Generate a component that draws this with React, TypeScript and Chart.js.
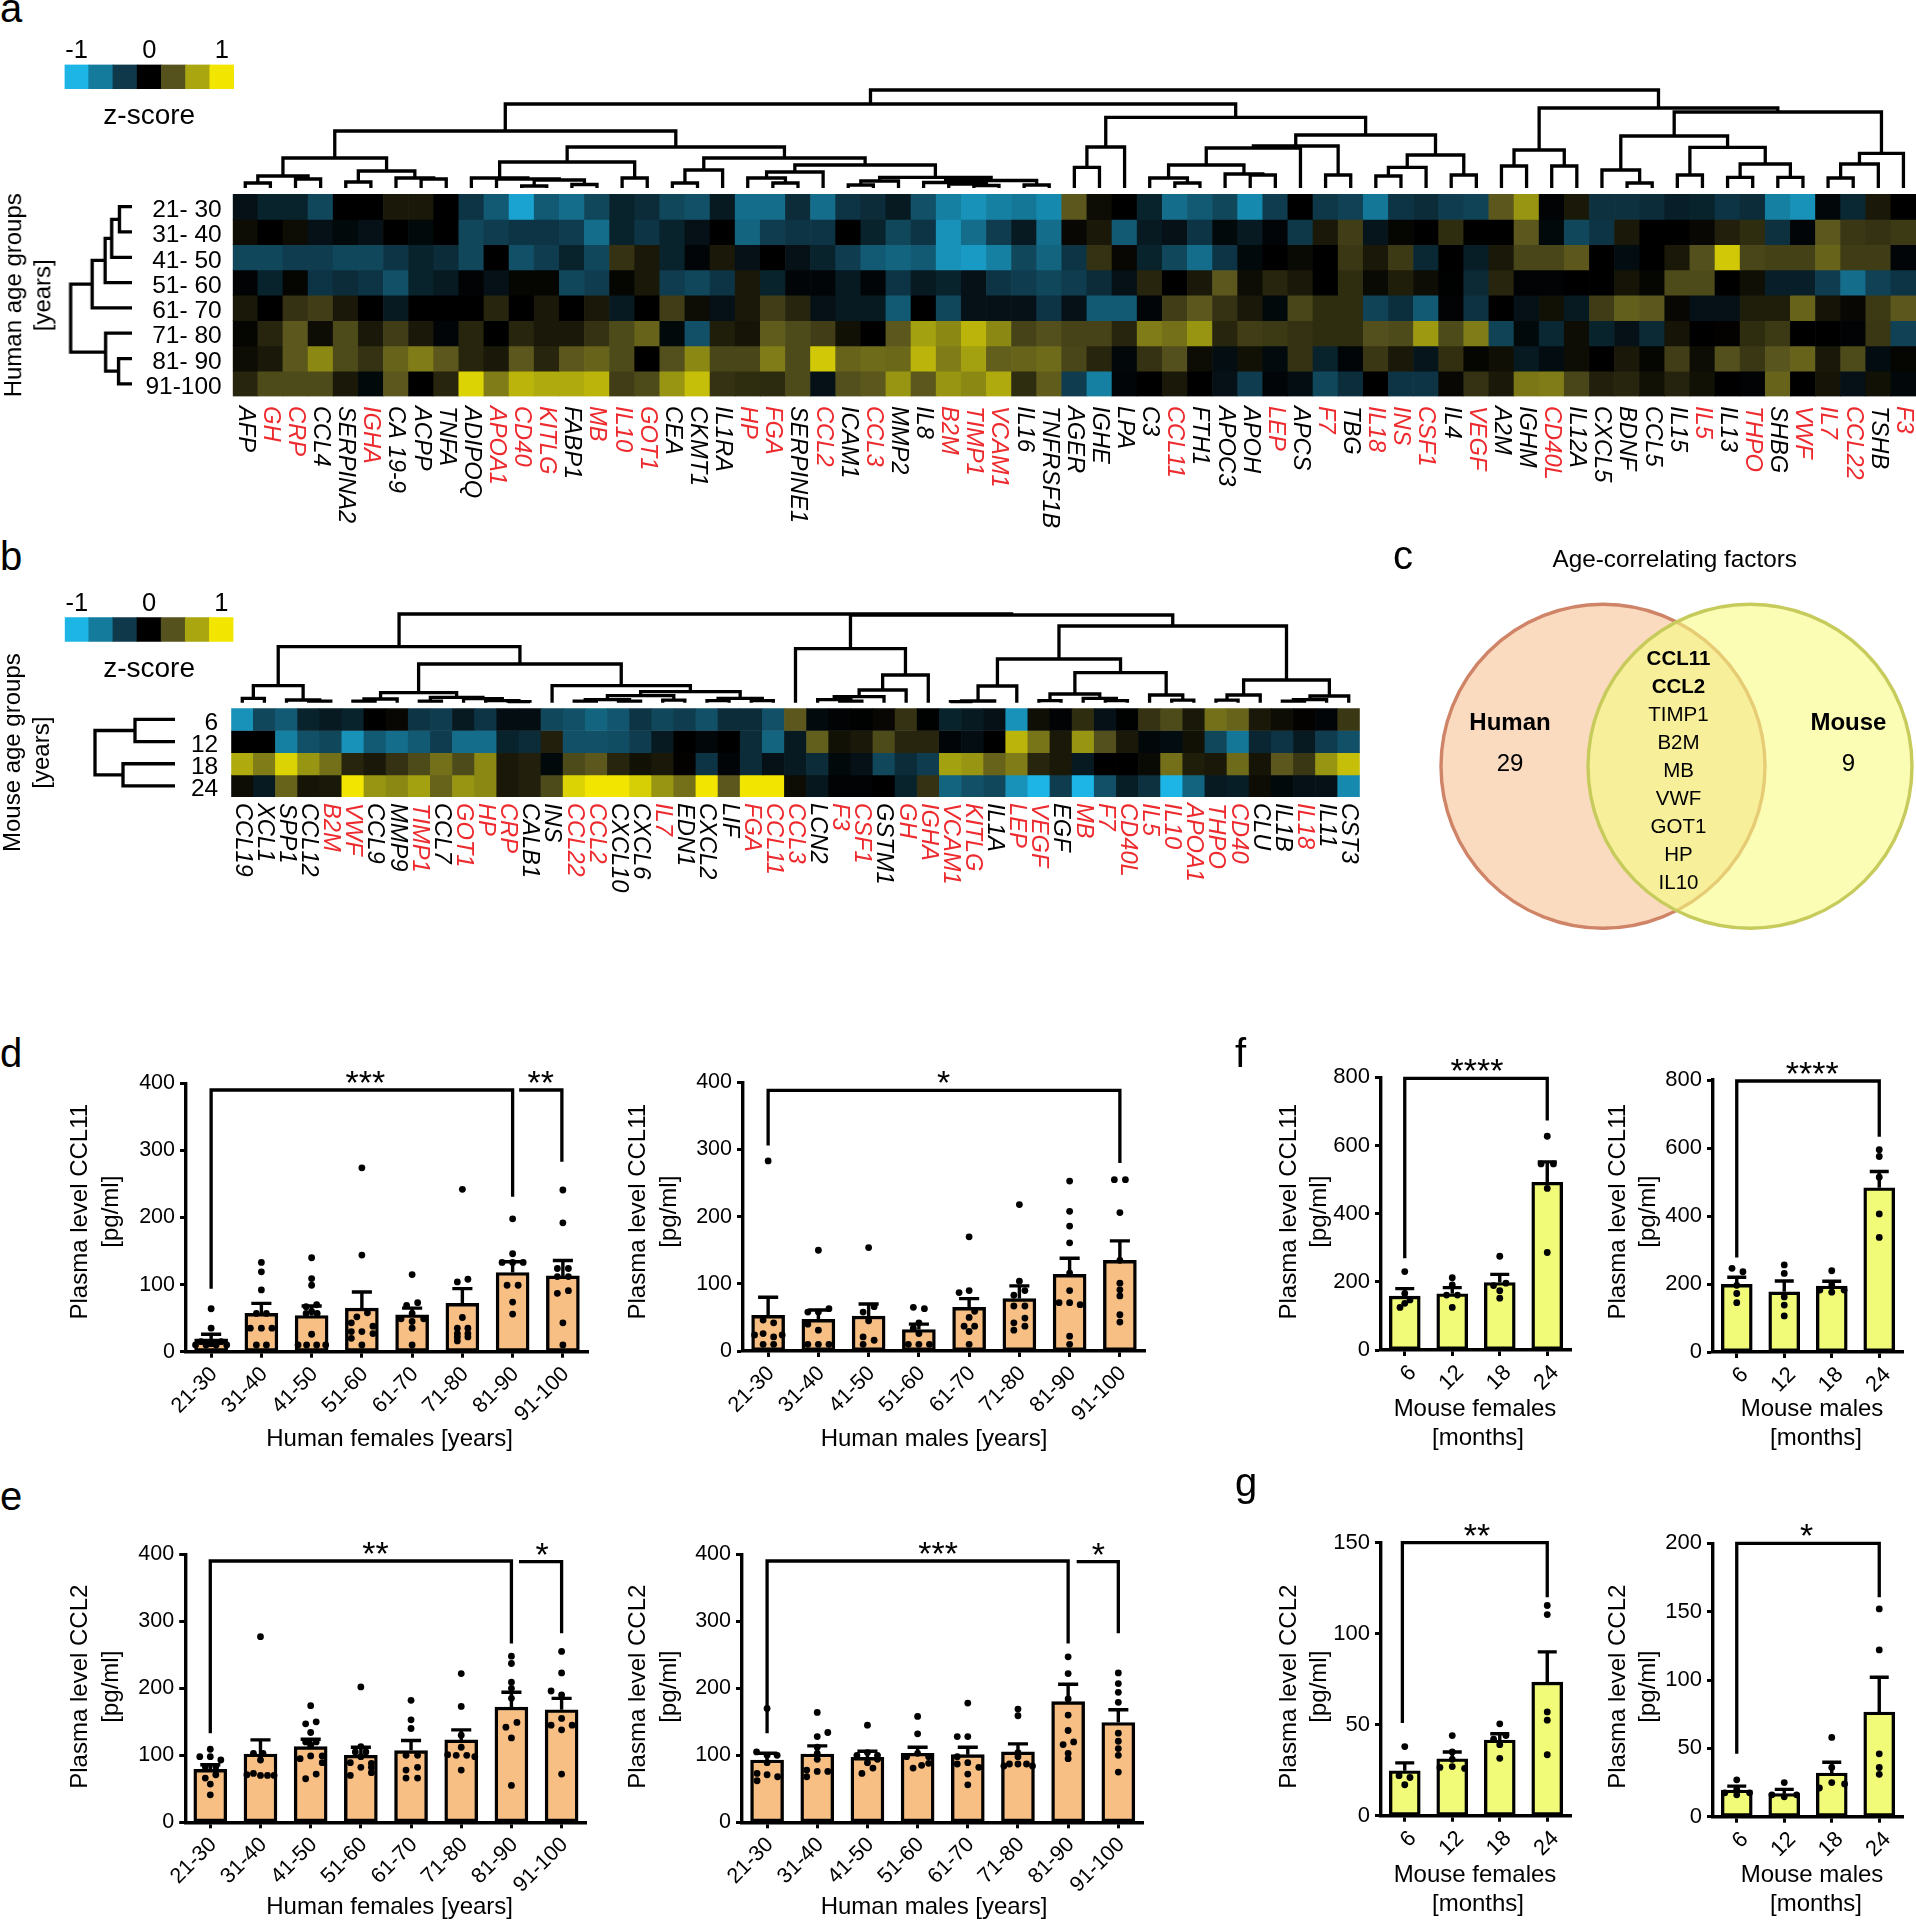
import React, { useEffect, useRef } from 'react';
import { Chart, registerables } from 'chart.js';

Chart.register(...registerables);
const FONT = '"Liberation Sans", Arial, sans-serif';
Chart.defaults.font.family = FONT;
Chart.defaults.color = '#000';

// ---------- heat map a ----------
const humanGenes = ['AFP','GH','CRP','CCL4','SERPINA2','IGHA','CA 19-9','ACPP','TNFA','ADIPOQ','APOA1','CD40','KITLG','FABP1','MB','IL10','GOT1','CEA','CKMT1','IL1RA','HP','FGA','SERPINE1','CCL2','ICAM1','CCL3','MMP2','IL8','B2M','TIMP1','VCAM1','IL16','TNFRSF1B','AGER','IGHE','LPA','C3','CCL11','FTH1','APOC3','APOH','LEP','APCS','F7','TBG','IL18','INS','CSF1','IL4','VEGF','A2M','IGHM','CD40L','IL12A','CXCL5','BDNF','CCL5','IL15','IL5','IL13','THPO','SHBG','VWF','IL7','CCL22','TSHB','F3'];
const humanRed = ['GH','CRP','IGHA','APOA1','CD40','KITLG','MB','IL10','GOT1','HP','FGA','CCL2','CCL3','B2M','TIMP1','VCAM1','CCL11','LEP','F7','IL18','INS','CSF1','VEGF','CD40L','IL5','THPO','VWF','IL7','CCL22','F3'];
const humanAges = ['21- 30','31- 40','41- 50','51- 60','61- 70','71- 80','81- 90','91-100'];
// z-scores in tenths
const humanZ21 = [-1,-2,-2,-4,0,0,1,1,0,-3,-5,-9,-5,-6,-4,-2,-2.5,-4,-4.5,-1.5,-6,-6,-2.5,-6,-3,-2.5,-1.5,-4.5,-7,-8,-7,-6.5,-7.5,3.5,.5,0,-2,-6,-5,-4,-7.5,-3.5,0,-3.2,-3.7,-6.5,-3,-2.5,-3.5,-3.8,3.5,6,-.2,1,-2.8,-2.8,-2.5,-1.8,-2,-3,-2.5,-7,-8,-.4,-2.3,1,0];
const humanZ31 = [.5,0,.5,-1,-.5,-1,0,-.5,0,-4,-3.5,-3,-3,-3.5,-6,-2,-3,-2,-1,0,-5.5,-3.5,-3,-3,0,-2,-4,-3,-8,-6,-3.5,-1.5,-6,.3,1,-5,-1.5,-1,-3,-.5,-1.5,-.3,-3.2,1,2.5,-1.2,.2,0,1.8,0,0,3.5,-.5,-4,-3,1,0,0,.3,1.3,1.8,-2.8,-.3,3.5,2.2,2,2.3];
const humanZ41 = [-4,-4,-3.5,-3.5,-4,-4,-3,-2,-2.5,-4,0,-4.5,-3.5,-2,-4,2,1,-2,-.3,1,-1,0,-1,-2,-3.5,-5,-5.5,-5,-8,-8.5,-7,-4,-5.5,-3,2,.3,-2,-4,-6,-3,-.5,0,.4,0,2.2,1,2.3,-2.3,0,-1.7,1,2.8,2.8,3.5,0,-.7,0,1,3.2,8.5,2.8,2.6,2.6,4,2.4,2.4,-.3];
const humanZ51 = [-.2,-2,.2,-3,-2.5,-3,-4.5,-2,-1.5,-.2,-1,.2,.2,-4,-3.5,.2,1,-3.5,-4,-3,1,-2,-.3,-.3,-1.5,-.3,-3,-1.5,-2,-1,-3,-3.5,-4,-3.5,-2.5,-1,1.5,0,1,3.5,.5,1.5,1,0,1.8,.4,1.2,.5,-.1,-2.4,1.5,-.2,-.2,0,0,.8,.2,3,3,0,.6,-1.8,-1.8,-3.5,-6,-3.7,-3];
const humanZ61 = [1,0,2,2.5,1,0,-1.5,0,0,0,1.5,0,1,0,1,-1.5,0,2.5,.5,-1,1,2.5,1.5,-1,-1.5,-1.5,-5,0,-4,-1,-1,-1,-3,-1,-5,-5,-.3,2.5,3.5,2,1,-.5,2.8,1.8,1.8,-3.8,-2.7,-5,-.2,-2.9,0,-1,.7,-1.5,2.4,3.8,3.5,.3,-1,-1,1.2,1.2,4,.8,.3,2.3,3.5];
const humanZ71 = [.2,1.5,3.5,.5,3,1,2.5,1,-.3,1.5,0,1.5,1,1,2,3,4,-.5,-4.5,1.2,.8,3.7,3,2.5,.7,0,3.5,6.5,5.5,7.5,5.5,2.7,3.2,2.7,2.7,1.5,5,4.5,6,1.5,2.5,2.3,2,1.8,1.8,3.2,3,6.2,3,5,-3.8,-.5,-2.3,.5,-2,-1,-2.4,.8,0,.1,1.8,2.3,0,0,-.2,2.2,-3.7];
const humanZ81 = [.5,1,3.5,5.5,3,2,4,5,3.5,1.5,1,3.5,1.5,3.5,4,3,0,3.2,5.5,2.8,2.8,5,3,8.5,4,4.3,4.2,7.5,5,6.5,3.8,4,4.3,2.8,1.5,-.4,2,3.2,.5,-.8,.7,-.6,2,-2,-.3,2.2,1,-1.2,1.9,.2,.6,-1.5,-.7,.5,0,1,.2,2.5,.5,3.2,2.2,3.4,4,1,3,-.7,.2];
const humanZ91 = [1.5,3,3,3,1,-.5,3.5,0,1.5,9,5,7.5,7,7,7.5,2.5,3,6,8,2,1.8,1.7,3,-1,3.2,3.5,6,3.5,6,5.5,7,1.8,3.7,-3.5,-7,-.3,0,1,0,-1,-3.5,-.3,-.8,-4,-2.6,0,-3,-3,.3,2,1,4.8,5,2.8,1.3,1.5,.7,1.4,.7,0,-.2,4,0,.8,-1,.7,-.4];
const humanRows = [humanZ21, humanZ31, humanZ41, humanZ51, humanZ61, humanZ71, humanZ81, humanZ91];
const humanGeneTree = [98,
  [84,
    [57,
      [30,[12,[5,'AFP','GH'],[9,'CRP','CCL4']],[17,[6,'SERPINA2','IGHA'],[10,'CA 19-9',[9,'ACPP','TNFA']]]],
      [41,
        [26,[10,'ADIPOQ',[9,'APOA1',[8,[2,'CD40','KITLG'],[3.5,'FABP1','MB']]]],[10,'IL10','GOT1']],
        [30,[18,[5,'CEA','CKMT1'],'IL1RA'],[23,[16,[10,'HP',[5,'FGA','SERPINE1']],'CCL2'],[10.7,[7,[3,'ICAM1','CCL3'],'MMP2'],[7.5,[5.5,'IL8',[4,'B2M',[2.5,'TIMP1','VCAM1']]],[3,'IL16','TNFRSF1B']]]]],
      ],
    ],
    [70.7,
      [41,[20.7,'AGER','IGHE'],'LPA'],
      [53,[42,[40,[23,[10,'C3',[5,'CCL11','FTH1']],[14,'APOC3',[13,'APOH','LEP']]],'APCS'],[13,'F7','TBG']],[33,[20.7,[12,'IL18','INS'],'CSF1'],[13,'IL4','VEGF']]],
    ],
  ],
  [80,
    [38,[22,'A2M','IGHM'],[22,'CD40L','IL12A']],
    [76,[52,[18,'CXCL5',[5,'BDNF','CCL5']],[40.7,[13,'IL15','IL5'],[24,[10.7,'IL13','THPO'],[10.7,'SHBG','VWF']]]],[34.7,[24,[10,'IL7','CCL22'],'TSHB'],'F3']],
  ],
];
const humanAgeTree = [61.6,[40,[27,[20.4,[12.6,'21- 30','31- 40'],'41- 50'],'51- 60'],'61- 70'],[26.5,'71- 80',[13.5,'81- 90','91-100']]];

// ---------- heat map b ----------
const mouseGenes = ['CCL19','XCL1','SPP1','CCL12','B2M','VWF','CCL9','MMP9','TIMP1','CCL7','GOT1','HP','CRP','CALB1','INS','CCL22','CCL2','CXCL10','CXCL6','IL7','EDN1','CXCL2','LIF','FGA','CCL11','CCL3','LCN2','F3','CSF1','GSTM1','GH','IGHA','VCAM1','KITLG','IL1A','LEP','VEGF','EGF','MB','F7','CD40L','IL5','IL10','APOA1','THPO','CD40','CLU','IL1B','IL18','IL11','CST3'];
const mouseRed = ['B2M','VWF','TIMP1','GOT1','HP','CRP','CCL22','CCL2','IL7','FGA','CCL11','CCL3','F3','CSF1','GH','IGHA','VCAM1','KITLG','LEP','VEGF','MB','F7','CD40L','IL5','IL10','APOA1','THPO','CD40','IL18'];
const mouseAges = ['6','12','18','24'];
const mouseZ6 = [-8,-4,-5,-2,-1.5,-2,0,.3,-3,-3.5,-1.5,-3,-.8,-.8,-4,-4.5,-5.5,-4.8,-3,-4,-3.5,-4.5,-2.5,-2.5,-4.5,3.5,-.6,-.2,-.1,.3,2,-.1,-2,-1.5,-1,-8,.6,-.2,1.8,-1,-.1,2,3,1,4.5,4,1,.5,.1,-.3,2.2];
const mouseZ12 = [0,0,-7,-4.5,-4,-8,-5,-6,-5,-3.5,-6,-6,-2,-2.5,1.3,-4.5,-4.5,-4.3,-3.5,-1.5,0,-.4,0,-2.5,-5.5,-1.5,3.8,.7,1,3,1.5,1.5,-.3,-.8,0,7.5,4.7,1,6,3.2,1,-.4,-.7,.7,-4,-6.5,-2.2,-3,-1.5,-3.5,-4.5];
const mouseZ18 = [7,5,9,6,4.5,1.5,1,2,3,4.5,3,5.5,1,1.3,-.5,3,3.5,1.5,.7,1,.1,-3,-.3,-2.5,-1,-1.5,-2.5,-.5,-1,-4,-2.5,-3.5,6.5,6,4,5,1.5,1,-1.5,0,0,.4,4.5,1.2,1,4.3,.8,3.5,2.2,6,8];
const mouseZ24 = [.5,-1.5,4,.8,1,10,6,5.5,6.5,4,6,5.5,1,1.3,3,9,10,10,8.8,6,4.5,10,3.5,10,10,.5,-1.3,-.2,-.2,0,-2,2,-5.5,-4.5,-4,-8,-10,-3.5,-10,-4.5,-1.7,-2.8,-10,-5.5,-1.5,-1.7,.5,-.5,-1,-1,-7.5];
const mouseRows = [mouseZ6, mouseZ12, mouseZ18, mouseZ24];
const mouseGeneTree = [88.7,
  [56,
    [17,[4.3,'CCL19','XCL1'],[2.7,'SPP1',[1.5,'CCL12','B2M']]],
    [38.7,
      [10,[3.7,[1.5,'VWF','CCL9'],'MMP9'],[5.3,[1.5,'TIMP1','CCL7'],[4,'GOT1',[2,'HP',[1,'CRP','CALB1']]]]],
      [17,'INS',[11,[7,[3,[1.5,'CCL22','CCL2'],[1.5,'CXCL10','CXCL6']],[2.5,'IL7','EDN1']],[4.3,[2,'CXCL2','LIF'],[2,'FGA','CCL11']]]],
    ],
  ],
  [87.7,
    [54,'CCL3',[27.7,[12.7,[6,[3,'LCN2',[1.5,'F3','CSF1']],'GSTM1'],'GH'],'IGHA']],
    [76.7,
      [43.7,[16.7,[1.7,[1,'VCAM1','KITLG'],'IL1A'],'LEP'],[30,[8.7,[2,'VEGF','EGF'],[4.3,'MB',[2,'F7','CD40L']]],[7.7,'IL5',[2.5,'IL10','APOA1']]]],
      [22.7,[7.7,[2.5,'THPO','CD40'],'CLU'],[6.7,[3,[1.5,'IL1B','IL18'],'IL11'],'CST3']],
    ],
  ],
];
const mouseAgeTree = [80,[40,'6','12'],[52,'18','24']];

const legendLabels = ['-1','','','0','','','1'];
const legendZ = [-10,-6.7,-3.3,0,3.3,6.7,10];

// ---------- Venn ----------
const sharedFactors = ['CCL11','CCL2','TIMP1','B2M','MB','VWF','GOT1','HP','IL10'];
const boldFactors = ['CCL11','CCL2'];
const humanOnlyCount = '29';
const mouseOnlyCount = '9';

// ---------- bar panels ----------
const decades = ['21-30','31-40','41-50','51-60','61-70','71-80','81-90','91-100'];
const months = ['6','12','18','24'];

const ccl11FemaleMeans = [19,57,54,65,55,72,118,113];
const ccl11FemaleCaps = [26,72,68,89,65,94,134,136];
const ccl11FemaleDots = [
  [[0,64],[0,35],[-.2,15],[.2,15],[-.31,10],[-.1,10],[.1,10],[.31,10],[0,12]],
  [[0,133],[0,119],[0,92],[-.1,57],[.1,57],[-.22,35],[0,35],[.21,35],[-.1,10],[.1,10]],
  [[0,140],[0,109],[0,99],[.1,70],[-.11,67],[0,60],[-.11,57],[.11,57],[0,26],[-.27,10],[-.1,10],[.1,10],[.28,10]],
  [[0,274],[0,144],[.11,58],[-.1,52],[-.21,43],[.22,38],[-.21,30],[0,30],[.22,27],[-.21,20],[0,10]],
  [[0,115],[.11,73],[-.11,69],[0,57],[-.22,49],[.23,49],[0,45],[0,35],[0,10]],
  [[0,242],[.11,108],[-.1,104],[0,51],[-.1,35],[.11,35],[-.1,27],[.11,27],[-.1,22],[.11,22],[-.1,16]],
  [[0,198],[0,146],[-.21,133],[0,133],[.21,133],[-.11,99],[.11,99],[0,74],[0,56]],
  [[0,241],[0,192],[-.11,124],[.11,124],[-.11,112],[.11,112],[.11,91],[-.11,87],[0,43],[0,10]],
];
const ccl11MaleMeans = [53,47,52,32,65,78,114,135];
const ccl11MaleCaps = [80,61,70,40,78,97,138,164];
const ccl11MaleDots = [
  [[0,283],[-.1,46],[.11,42],[-.1,26],[-.27,24],[.11,21],[.28,24],[-.1,10],[.11,10]],
  [[0,150],[-.21,58],[.21,63],[0,58],[-.21,40],[0,31],[-.21,10],[0,10],[.21,10]],
  [[0,154],[.11,66],[-.11,58],[0,45],[-.11,21],[.11,16],[-.11,10]],
  [[-.11,65],[.11,63],[0,42],[-.11,34],[0,26],[-.21,10],[0,10],[.21,10]],
  [[0,170],[0,90],[-.2,87],[.11,59],[0,50],[-.1,37],[.11,37],[0,29],[0,10]],
  [[0,218],[0,104],[.11,90],[-.11,83],[-.11,67],[.11,67],[.11,49],[-.11,42],[.11,37],[-.11,31]],
  [[0,253],[0,208],[0,186],[0,161],[0,116],[0,90],[-.21,72],[0,72],[.21,69],[0,22],[0,10]],
  [[-.11,255],[.11,255],[0,206],[0,135],[0,101],[0,91],[0,82],[0,54],[0,43]],
];
const ccl2FemaleMeans = [79,102,113,100,107,123,172,168];
const ccl2FemaleCaps = [86,123,124,112,122,138,194,185];
const ccl2FemaleDots = [
  [[0,109],[-.21,98],[0,98],[.21,93],[-.1,83],[.11,83],[.11,71],[-.1,66],[0,57],[0,41]],
  [[0,277],[-.14,103],[.05,103],[0,93],[-.14,73],[-.27,71],[0,70],[.14,70],[.27,70]],
  [[0,174],[-.1,147],[.11,150],[0,134],[-.1,120],[.11,120],[0,115],[.23,99],[-.21,95],[0,99],[.23,89],[.11,72],[-.1,65]],
  [[0,202],[0,113],[-.11,105],[.1,105],[0,98],[-.21,89],[.21,88],[0,82],[.21,82],[.21,74],[-.21,70]],
  [[0,182],[0,153],[0,140],[-.1,100],[.13,100],[.13,82],[-.1,78],[-.1,66],[.13,66]],
  [[0,222],[0,173],[0,130],[0,112],[-.27,101],[-.1,100],[.11,100],[.27,98],[0,78]],
  [[0,248],[0,237],[0,209],[0,200],[0,185],[.11,149],[-.11,142],[0,126],[0,55]],
  [[0,255],[0,223],[-.21,196],[0,190],[0,155],[-.21,145],[.21,145],[0,138],[0,72]],
];
const ccl2MaleMeans = [93,102,97,103,101,105,180,149];
const ccl2MaleCaps = [103,114,106,112,112,117,206,168];
const ccl2MaleDots = [
  [[0,170],[-.21,105],[0,100],[.2,100],[0,89],[-.2,73],[0,71],[.21,68],[-.2,62]],
  [[0,164],[.21,134],[0,128],[0,112],[0,103],[0,94],[-.21,78],[0,76],[.21,76],[-.21,68]],
  [[0,145],[0,104],[-.21,100],[.2,100],[.2,94],[0,89],[.11,81],[-.11,73]],
  [[0,158],[0,132],[0,103],[-.22,98],[.22,98],[.22,88],[.08,85],[-.09,81]],
  [[0,178],[-.21,128],[0,128],[-.21,98],[0,89],[-.21,87],[.22,82],[0,72],[0,56]],
  [[0,169],[0,159],[0,104],[0,98],[-.17,87],[0,87],[.17,87],[-.28,84],[.29,84]],
  [[0,247],[0,222],[0,184],[0,160],[0,137],[.11,120],[-.1,116],[0,103],[0,95]],
  [[0,223],[0,207],[0,194],[0,179],[0,133],[0,121],[0,110],[0,100],[0,75]],
];
const mouseCcl11FemaleMeans = [158,165,198,492];
const mouseCcl11FemaleCaps = [180,183,222,552];
const mouseCcl11FemaleDots = [
  [[0,230],[0,166],[.11,147],[0,137],[-.1,125]],
  [[0,212],[0,191],[-.12,161],[.11,161],[0,125]],
  [[0,275],[.13,196],[-.13,189],[0,174],[0,152]],
  [[0,627],[-.13,546],[.13,546],[0,474],[0,286]],
];
const mouseCcl11MaleMeans = [199,177,194,483];
const mouseCcl11MaleCaps = [220,209,208,531];
const mouseCcl11MaleDots = [
  [[-.1,246],[.13,236],[0,196],[0,172],[0,145]],
  [[0,256],[0,231],[0,162],[0,138],[0,106]],
  [[0,239],[0,197],[-.25,182],[.26,182],[0,176]],
  [[0,595],[0,575],[0,514],[0,406],[0,337]],
];
const mouseCcl2FemaleMeans = [24.7,31.3,41.6,73.4];
const mouseCcl2FemaleCaps = [29,35,45,90];
const mouseCcl2FemaleDots = [
  [[0,38],[-.12,22],[.11,21],[0,17]],
  [[0,44],[0,35],[0,31],[-.26,26.5],[0,27],[.26,26]],
  [[0,50.5],[.13,44],[-.13,42],[0,39],[0,31.5]],
  [[0,115.5],[0,110.5],[0,57],[0,52.5],[0,33.5]],
];
const mouseCcl2MaleMeans = [19.5,17,32,76.6];
const mouseCcl2MaleCaps = [22.4,20,39.8,102];
const mouseCcl2MaleDots = [
  [[0,27],[0,20],[-.25,17.5],[.27,17.5],[0,16]],
  [[0,25],[-.26,16],[0,14.6],[.26,16]],
  [[0,58],[0,36],[0,25],[.27,24],[-.26,21]],
  [[0,152],[0,122],[0,46],[0,36],[0,31]],
];

const ORANGE = '#F7BF84';
const YELLOW = '#F2FB78';
const RED = '#ED2A2E';

// ---------- helpers ----------
const baseOptions = () => ({
  animation: false as const,
  responsive: false,
  maintainAspectRatio: false,
  events: [] as any[],
  plugins: { legend: { display: false }, tooltip: { enabled: false } },
});

const warmStops = [[0, 0, 0], [87, 83, 30], [168, 165, 15], [242, 230, 0]];
const coolStops = [[0, 0, 0], [15, 58, 75], [20, 122, 155], [29, 181, 230]];
const zColor = (z: number) => {
  const stops = z >= 0 ? warmStops : coolStops;
  const t = (Math.min(10, Math.abs(z)) / 10) * 3;
  const i = Math.min(2, Math.floor(t));
  const f = t - i;
  const c = stops[i].map((v, k) => Math.round(v + (stops[i + 1][k] - v) * f));
  return `rgb(${c[0]},${c[1]},${c[2]})`;
};

function drawText(ctx: any, text: string, x: number, y: number, font: string, o: any = {}) {
  ctx.save();
  ctx.translate(x, y);
  if (o.rot) ctx.rotate(o.rot);
  ctx.font = font;
  ctx.fillStyle = o.color || '#000';
  ctx.textAlign = o.align || 'center';
  ctx.textBaseline = o.baseline || 'middle';
  ctx.fillText(text, 0, 0);
  ctx.restore();
}

function treeSegments(tree: any, names: string[], horizontal: boolean) {
  const pts: any[] = [];
  const put = (pos: number, h: number) => pts.push(horizontal ? { x: h, y: pos } : { x: pos, y: h });
  const walk = (n: any): { p: number; h: number } => {
    if (typeof n === 'string') return { p: names.indexOf(n) + 0.5, h: 0 };
    const a = walk(n[1]);
    const b = walk(n[2]);
    put(a.p, a.h); put(a.p, n[0]); put(b.p, n[0]); put(b.p, b.h);
    pts.push({ x: NaN, y: NaN });
    return { p: (a.p + b.p) / 2, h: n[0] };
  };
  walk(tree);
  return pts;
}

const lineSet = (data: any[], order: number, width: number, extra: any = {}) => ({
  type: 'scatter', data, showLine: true, borderColor: '#000', backgroundColor: '#000', borderWidth: width,
  pointRadius: 0, clip: false, order, borderJoinStyle: 'miter', borderCapStyle: 'butt', tension: 0, ...extra,
});

function topDendro(tree: any, names: string[], g: any) {
  const rect = [g.l, g.t, g.w, g.h];
  return {
    rect,
    make: () => ({
      type: 'scatter',
      data: { datasets: [lineSet(treeSegments(tree, names, false), 0, 3.3)] },
      options: {
        ...baseOptions(),
        layout: { autoPadding: false, padding: { left: g.plotL - g.l, right: g.l + g.w - g.plotR, top: g.base - g.span - g.t, bottom: g.t + g.h - g.base } },
        scales: {
          x: { type: 'linear', display: false, min: 0, max: names.length },
          y: { type: 'linear', display: false, min: 0, max: g.span },
        },
      },
    }),
  };
}

function sideDendro(tree: any, names: string[], g: any) {
  const rect = [0, g.t, g.base + 4, g.h];
  return {
    rect,
    make: () => ({
      type: 'scatter',
      data: { datasets: [lineSet(treeSegments(tree, names, true), 0, 3.3)] },
      options: {
        ...baseOptions(),
        layout: { autoPadding: false, padding: { left: g.base - g.span, right: 4, top: g.rowT - g.t, bottom: g.t + g.h - g.rowB } },
        scales: {
          x: { type: 'linear', display: false, min: 0, max: g.span, reverse: true },
          y: { type: 'linear', display: false, min: 0, max: names.length, reverse: true },
        },
      },
      plugins: [{
        id: 'sideTitle',
        afterDraw(chart: any) {
          const c = chart.ctx;
          const cy = (g.rowT + g.rowB) / 2 - g.t;
          drawText(c, g.title[0], g.titleX[0], cy, `24px ${FONT}`, { rot: -Math.PI / 2 });
          drawText(c, g.title[1], g.titleX[1], cy, `24px ${FONT}`, { rot: -Math.PI / 2 });
        },
      }],
    }),
  };
}

function heat(rows: number[][], genes: string[], red: string[], ages: string[], g: any) {
  const rect = [g.l, g.t, g.w, g.h];
  return {
    rect,
    make: () => ({
      type: 'bar',
      data: {
        labels: genes,
        datasets: rows.map((row, r) => ({
          data: row.map(() => [r, r + 1]),
          backgroundColor: row.map(zColor),
          borderWidth: 0,
          grouped: false,
          barPercentage: 1,
          categoryPercentage: 1,
        })),
      },
      options: {
        ...baseOptions(),
        layout: { autoPadding: false, padding: { left: 0, right: g.l + g.w - g.plotR, top: g.plotT - g.t, bottom: g.t + g.h - g.plotB } },
        scales: {
          x: { type: 'category', display: false, offset: true },
          y: {
            type: 'linear', reverse: true, min: 0, max: rows.length,
            afterBuildTicks: (s: any) => { s.ticks = ages.map((_, i) => ({ value: i + 0.5 })); },
            afterFit: (s: any) => { s.width = g.plotL - g.l; },
            ticks: { callback: (v: number) => ages[Math.floor(v)], font: { size: 24.5 }, padding: g.tickPad, labelOffset: 3.5, autoSkip: false },
            grid: { display: false, drawTicks: false },
            border: { display: false },
          },
        },
      },
      plugins: [{
        id: 'geneLabels',
        afterDraw(chart: any) {
          const c = chart.ctx;
          const x = chart.scales.x;
          genes.forEach((name, i) => {
            drawText(c, name, x.getPixelForValue(i), g.labelY - g.t, `italic 23.7px ${FONT}`, {
              rot: Math.PI / 2, align: 'left', color: red.includes(name) ? RED : '#000',
            });
          });
        },
      }],
    }),
  };
}

function colorLegend(g: any) {
  const rect = [g.l, g.t, g.w, g.h];
  const lh = 1.2 * 28;
  return {
    rect,
    make: () => ({
      type: 'bar',
      data: {
        labels: legendLabels,
        datasets: [{ data: legendZ.map(() => 1), backgroundColor: legendZ.map(zColor), borderWidth: 0, grouped: false, barPercentage: 1, categoryPercentage: 1, xAxisID: 'x' }],
      },
      options: {
        ...baseOptions(),
        layout: { autoPadding: false, padding: { left: g.plotL - g.l, right: g.l + g.w - g.plotR, top: 0, bottom: 0 } },
        scales: {
          x: {
            type: 'category', position: 'top', offset: true,
            grid: { display: false, drawTicks: false }, border: { display: false },
            ticks: { autoSkip: false, minRotation: 0, maxRotation: 0, font: { size: 25.5 }, padding: g.tickPad },
            afterFit: (s: any) => { s.height = g.plotT - g.t; },
          },
          xt: {
            type: 'category', position: 'bottom', offset: true,
            grid: { display: false, drawTicks: false }, border: { display: false },
            ticks: { display: false },
            title: { display: true, text: 'z-score', font: { size: 28 }, padding: { top: 0, bottom: g.t + g.h - g.titleY - lh / 2 } },
            afterFit: (s: any) => { s.height = g.t + g.h - g.plotB; },
          },
          y: { type: 'linear', display: false, min: 0, max: 1 },
        },
      },
    }),
  };
}

function venn() {
  const L = 1380, T = 530, W = 536, H = 410;
  const px = (x: number) => x - L;
  return {
    rect: [L, T, W, H],
    make: () => ({
      type: 'bubble',
      data: {
        datasets: [
          { data: [{ x: 1750 - L, y: 766.3 - T, r: 162 }], backgroundColor: 'rgba(246,252,128,0.6)', borderColor: '#C6CB5C', borderWidth: 3.4, clip: false, order: 0 },
          { data: [{ x: 1603 - L, y: 766.3 - T, r: 162 }], backgroundColor: 'rgb(251,219,192)', borderColor: '#CF8468', borderWidth: 3.4, clip: false, order: 1 },
        ],
      },
      options: {
        ...baseOptions(),
        layout: { autoPadding: false, padding: 0 },
        scales: {
          x: { type: 'linear', display: false, min: 0, max: W },
          y: { type: 'linear', display: false, min: 0, max: H, reverse: true },
        },
      },
      plugins: [{
        id: 'vennText',
        afterDraw(chart: any) {
          const c = chart.ctx;
          drawText(c, 'Age-correlating factors', px(1674.7), 560 - T, `24.3px ${FONT}`);
          drawText(c, 'Human', px(1510), 723.5 - T, `bold 24px ${FONT}`);
          drawText(c, humanOnlyCount, px(1510), 764 - T, `24px ${FONT}`);
          drawText(c, 'Mouse', px(1848.4), 723.5 - T, `bold 24px ${FONT}`);
          drawText(c, mouseOnlyCount, px(1848.4), 764 - T, `24px ${FONT}`);
          sharedFactors.forEach((name, i) => {
            const bold = boldFactors.includes(name) ? 'bold ' : '';
            drawText(c, name, px(1678.5), 659 + i * 28 - T, `${bold}20.5px ${FONT}`);
          });
        },
      }],
    }),
  };
}

function barPanel(p: any) {
  const L = Math.floor(p.axisX - 150);
  const T = Math.floor(p.yTop - 45);
  const R = Math.ceil(p.right + 12);
  const B = Math.ceil(p.y0 + 110);
  const n = p.labels.length;
  const capHalf = 0.2;
  const err: any[] = [];
  p.means.forEach((m: number, i: number) => {
    err.push({ x: i, y: m }, { x: i, y: p.caps[i] }, { x: NaN, y: NaN });
    err.push({ x: i - capHalf, y: p.caps[i] }, { x: i + capHalf, y: p.caps[i] }, { x: NaN, y: NaN });
  });
  const dots: any[] = [];
  p.dots.forEach((list: number[][], i: number) => list.forEach(([dx, v]) => dots.push({ x: i + dx, y: v })));
  const brackets: any[] = [];
  p.brackets.forEach((b: number[]) => {
    brackets.push({ x: b[0], y: b[3] }, { x: b[0], y: b[2] }, { x: b[1], y: b[2] }, { x: b[1], y: b[4] }, { x: NaN, y: NaN });
  });
  const tickGrid = { display: true, drawOnChartArea: false, drawTicks: true, tickLength: 6, tickWidth: 3, tickColor: '#000', offset: false };
  const border = { display: true, color: '#000', width: 3.4 };
  return {
    rect: [L, T, R - L, B - T],
    make: () => ({
      type: 'bar',
      data: {
        labels: p.labels,
        datasets: [
          { type: 'bar', data: p.means, backgroundColor: p.color, borderColor: '#000', borderWidth: 3.4, borderSkipped: false, grouped: false, barThickness: p.barW, order: 3, xAxisID: 'x', yAxisID: 'y' },
          { ...lineSet(brackets, 2, 3.3), xAxisID: 'xd', yAxisID: 'y' },
          { ...lineSet(err, 1, 3.4), xAxisID: 'xd', yAxisID: 'y' },
          { type: 'scatter', data: dots, showLine: false, pointRadius: 3.4, pointBackgroundColor: '#000', pointBorderWidth: 0, clip: false, order: 0, xAxisID: 'xd', yAxisID: 'y' },
        ],
      },
      options: {
        ...baseOptions(),
        layout: { autoPadding: false, padding: { left: 0, right: R - p.right, top: p.yTop - T, bottom: 0 } },
        scales: {
          x: {
            type: 'category', position: 'bottom', offset: true, grid: tickGrid, border,
            ticks: { autoSkip: false, minRotation: 45, maxRotation: 45, labelOffset: p.labelOffset, font: { size: p.tickSize }, padding: p.xTickPad },
            afterFit: (s: any) => { s.height = B - p.y0; },
          },
          xd: { type: 'linear', display: false, offset: false, min: -0.5, max: n - 0.5 },
          y: {
            type: 'linear', position: 'left', min: 0, max: p.max, grid: tickGrid, border,
            ticks: { stepSize: p.step, font: { size: p.tickSize }, padding: 5 },
            afterFit: (s: any) => { s.width = p.axisX - L; },
          },
        },
      },
      plugins: [{
        id: 'panelText',
        afterDraw(chart: any) {
          const c = chart.ctx;
          p.stars.forEach((s: any) => {
            drawText(c, s[0], chart.scales.xd.getPixelForValue(s[1]), chart.scales.y.getPixelForValue(s[2]) + 4, `34px ${FONT}`, { baseline: 'alphabetic' });
          });
          p.yTitle.forEach((line: string, i: number) => {
            drawText(c, line, p.titleX + 1.5 + i * (p.titleLh - 1.5) - L, p.titleCy - T, `24px ${FONT}`, { rot: -Math.PI / 2 });
          });
          p.xTitle.forEach((line: string, i: number) => {
            drawText(c, line, p.xTitleX[i] - L, p.xTitleY + i * p.xLh - T, `24px ${FONT}`);
          });
        },
      }],
    }),
  };
}

const human = { labels: decades, color: ORANGE, barW: 33, tickSize: 21.5, xTickPad: 4, labelOffset: 3, step: 100, max: 400, titleLh: 32.5, xLh: 29 };
const mouse = { labels: months, color: YELLOW, barW: 31, tickSize: 22, xTickPad: 4, labelOffset: 8, titleLh: 32, xLh: 29 };

const panels = [
  barPanel({ ...human, axisX: 186, yTop: 1083.3, y0: 1351.7, right: 588, titleX: 78.5, titleCy: 1211.7, xTitleY: 1439, xTitleX: [389.6],
    means: ccl11FemaleMeans, caps: ccl11FemaleCaps, dots: ccl11FemaleDots,
    yTitle: ['Plasma level CCL11', '[pg/ml]'], xTitle: ['Human females [years]'],
    brackets: [[0, 6, 390, 94, 231], [6.13, 6.98, 390, 390, 283]],
    stars: [['***', 3.07, 390], ['**', 6.56, 390]] }),
  barPanel({ ...human, axisX: 743, yTop: 1082.3, y0: 1351, right: 1145, titleX: 636.4, titleCy: 1211.7, xTitleY: 1439, xTitleX: [934],
    means: ccl11MaleMeans, caps: ccl11MaleCaps, dots: ccl11MaleDots,
    yTitle: ['Plasma level CCL11', '[pg/ml]'], xTitle: ['Human males [years]'],
    brackets: [[0, 7, 388, 306, 280]], stars: [['*', 3.49, 388]] }),
  barPanel({ ...human, axisX: 185.2, yTop: 1554.3, y0: 1822.3, right: 586.7, titleX: 78.5, titleCy: 1686.7, xTitleY: 1907, xTitleX: [389.6],
    means: ccl2FemaleMeans, caps: ccl2FemaleCaps, dots: ccl2FemaleDots,
    yTitle: ['Plasma level CCL2', '[pg/ml]'], xTitle: ['Human females [years]'],
    brackets: [[0, 6, 390, 133, 267], [6.15, 7, 389, 389, 282]],
    stars: [['**', 3.29, 390], ['*', 6.61, 389]] }),
  barPanel({ ...human, axisX: 742, yTop: 1554.3, y0: 1822.3, right: 1143.4, titleX: 636.4, titleCy: 1686.7, xTitleY: 1907, xTitleX: [934],
    means: ccl2MaleMeans, caps: ccl2MaleCaps, dots: ccl2MaleDots,
    yTitle: ['Plasma level CCL2', '[pg/ml]'], xTitle: ['Human males [years]'],
    brackets: [[0, 6, 390, 133, 267], [6.17, 7, 389, 389, 282]],
    stars: [['***', 3.41, 390], ['*', 6.6, 389]] }),
  barPanel({ ...mouse, axisX: 1381, yTop: 1077.3, y0: 1350, right: 1571, max: 800, step: 200, titleX: 1287.4, titleCy: 1211.7, xTitleY: 1409, xTitleX: [1475, 1478],
    means: mouseCcl11FemaleMeans, caps: mouseCcl11FemaleCaps, dots: mouseCcl11FemaleDots,
    yTitle: ['Plasma level CCL11', '[pg/ml]'], xTitle: ['Mouse females', '[months]'],
    brackets: [[0, 3, 797, 269, 673]], stars: [['****', 1.52, 797]] }),
  barPanel({ ...mouse, axisX: 1713, yTop: 1080, y0: 1352, right: 1903, max: 800, step: 200, titleX: 1616.5, titleCy: 1211.7, xTitleY: 1409, xTitleX: [1812, 1816],
    means: mouseCcl11MaleMeans, caps: mouseCcl11MaleCaps, dots: mouseCcl11MaleDots,
    yTitle: ['Plasma level CCL11', '[pg/ml]'], xTitle: ['Mouse males', '[months]'],
    brackets: [[0, 3, 797, 278, 633]], stars: [['****', 1.59, 797]] }),
  barPanel({ ...mouse, axisX: 1381, yTop: 1542.7, y0: 1815.7, right: 1571, max: 150, step: 50, titleX: 1287.4, titleCy: 1686.7, xTitleY: 1875, xTitleX: [1475, 1478],
    means: mouseCcl2FemaleMeans, caps: mouseCcl2FemaleCaps, dots: mouseCcl2FemaleDots,
    yTitle: ['Plasma level CCL2', '[pg/ml]'], xTitle: ['Mouse females', '[months]'],
    brackets: [[-0.05, 3, 150, 51, 120]], stars: [['**', 1.52, 150]] }),
  barPanel({ ...mouse, axisX: 1713, yTop: 1543.3, y0: 1816.7, right: 1903, max: 200, step: 50, titleX: 1616.5, titleCy: 1686.7, xTitleY: 1875, xTitleX: [1812, 1816],
    means: mouseCcl2MaleMeans, caps: mouseCcl2MaleCaps, dots: mouseCcl2MaleDots,
    yTitle: ['Plasma level CCL2', '[pg/ml]'], xTitle: ['Mouse males', '[months]'],
    brackets: [[0, 3, 200, 46, 160.5]], stars: [['*', 1.47, 200]] }),
];

const charts = [
  colorLegend({ l: 50, t: 20, w: 200, h: 120, plotL: 64.5, plotR: 234, plotT: 64.5, plotB: 89, tickPad: -1.5, titleY: 116.5 }),
  topDendro(humanGeneTree, humanGenes, { l: 228, t: 84, w: 1688, h: 108, plotL: 232.7, plotR: 1916, base: 188, span: 100 }),
  sideDendro(humanAgeTree, humanAges, { t: 180, h: 230, base: 131.8, span: 70, rowT: 194, rowB: 396.5, title: ['Human age groups', '[years]'], titleX: [14, 43] }),
  heat(humanRows, humanGenes, humanRed, humanAges, { l: 140, t: 160, w: 1776, h: 390, plotL: 232.7, plotR: 1916, plotT: 194, plotB: 396.5, labelY: 406, tickPad: 11 }),
  colorLegend({ l: 50, t: 572, w: 200, h: 120, plotL: 64.7, plotR: 233.5, plotT: 617.3, plotB: 641.7, tickPad: -1.5, titleY: 669 }),
  topDendro(mouseGeneTree, mouseGenes, { l: 226, t: 604, w: 1139, h: 103, plotL: 231.2, plotR: 1359.8, base: 702.7, span: 95 }),
  sideDendro(mouseAgeTree, mouseAges, { t: 640, h: 220, base: 175, span: 85, rowT: 708.3, rowB: 797, title: ['Mouse age groups', '[years]'], titleX: [13, 42.4] }),
  heat(mouseRows, mouseGenes, mouseRed, mouseAges, { l: 140, t: 674, w: 1225, h: 230, plotL: 231.2, plotR: 1359.8, plotT: 708.3, plotB: 797, labelY: 803, tickPad: 13 }),
  venn(),
  ...panels,
];

const panelLetters: [string, number, number][] = [
  ['a', 0, 22], ['b', 0, 570], ['c', 1393, 569], ['d', 0, 1067], ['e', 0, 1510], ['f', 1235, 1067], ['g', 1235, 1496],
];

function ChartBox({ rect, make }: any) {
  const ref = useRef<HTMLCanvasElement | null>(null);
  useEffect(() => {
    const c = new Chart(ref.current as any, make());
    return () => c.destroy();
  }, []);
  return (
    <canvas
      ref={ref}
      width={rect[2]}
      height={rect[3]}
      style={{ position: 'absolute', left: rect[0], top: rect[1], width: rect[2], height: rect[3] }}
    />
  );
}

export default function App() {
  return (
    <div style={{ position: 'absolute', left: 0, top: 0, width: 1916, height: 1920, overflow: 'hidden', background: '#fff' }}>
      {charts.map((c, i) => (
        <ChartBox key={i} rect={c.rect} make={c.make} />
      ))}
      {panelLetters.map(([t, x, base]) => (
        <div
          key={t}
          style={{ position: 'absolute', left: x, top: base - 34, font: `40px/40px ${FONT}`, color: '#000' }}
        >
          {t}
        </div>
      ))}
    </div>
  );
}
